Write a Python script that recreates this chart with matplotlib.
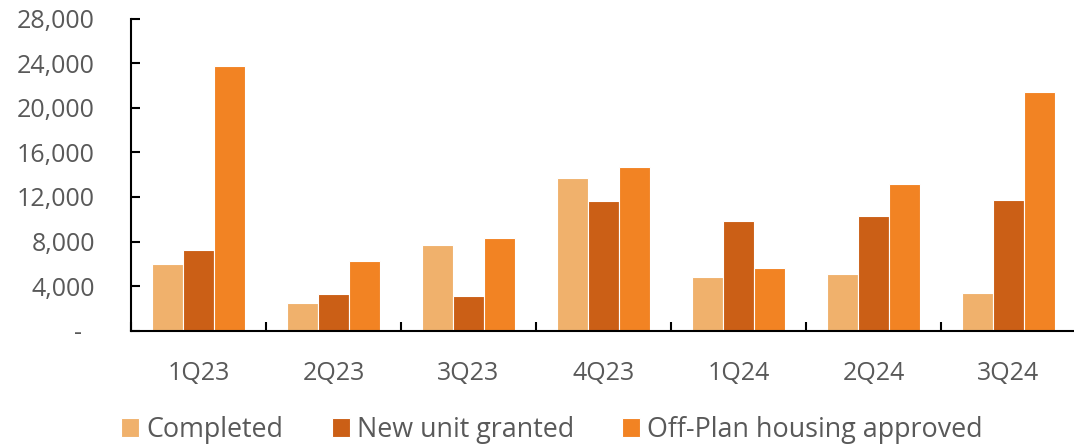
import matplotlib.pyplot as plt
import numpy as np
from matplotlib.ticker import FixedLocator, FuncFormatter

quarters = ['1Q23', '2Q23', '3Q23', '4Q23', '1Q24', '2Q24', '3Q24']
completed = [6000, 2500, 7700, 13700, 4800, 5050, 3350]
new_units = [7250, 3300, 3100, 11600, 9850, 10250, 11750]
off_plan = [23750, 6250, 8300, 14650, 5600, 13200, 21450]

series_names = ['Completed', 'New unit granted', 'Off-Plan housing approved']
series_colors = ['#F0B16C', '#CB5F16', '#F28323']

plt.rcParams['font.family'] = ['Open Sans', 'DejaVu Sans']
text_color = '#595959'

fig = plt.figure(figsize=(10.74, 4.46), dpi=100)
ax = fig.add_axes([131 / 1074, 115.3 / 446, 945 / 1074, 312 / 446])

x = np.arange(len(quarters))
width = 0.23
for i, (vals, name, color) in enumerate(zip([completed, new_units, off_plan], series_names, series_colors)):
    ax.bar(x + (i - 1) * width, vals, width, color=color, label=name,
           edgecolor='white', linewidth=0.8, zorder=2)

ax.set_xlim(-0.5, len(quarters) - 0.5)
ax.set_ylim(0, 28000)

ax.spines['top'].set_visible(False)
ax.spines['right'].set_visible(False)
for side in ['left', 'bottom']:
    ax.spines[side].set_linewidth(1.5)
    ax.spines[side].set_color('black')
    ax.spines[side].set_zorder(3)

ax.set_yticks(np.arange(0, 28001, 4000))
ax.yaxis.set_major_formatter(FuncFormatter(lambda v, p: '-  ' if v == 0 else f'{int(v):,}'))
ax.tick_params(axis='y', direction='in', length=6.5, width=1.5, pad=26,
               labelsize=18, labelcolor=text_color)

ax.set_xticks(x)
ax.set_xticklabels(quarters)
ax.tick_params(axis='x', which='major', length=0, pad=22, labelsize=18, labelcolor=text_color)
ax.xaxis.set_minor_locator(FixedLocator(np.arange(-0.5, len(quarters), 1.0)))
ax.tick_params(axis='x', which='minor', direction='in', length=6.5, width=1.5)

leg = fig.legend(loc='center', bbox_to_anchor=(0.514, 0.036), ncol=3, frameon=False,
                 fontsize=19.4, handlelength=0.67, handleheight=0.67, handletextpad=0.26,
                 columnspacing=1.8, borderaxespad=0)
for t in leg.get_texts():
    t.set_color(text_color)

fig.savefig('out.png', dpi=100)
